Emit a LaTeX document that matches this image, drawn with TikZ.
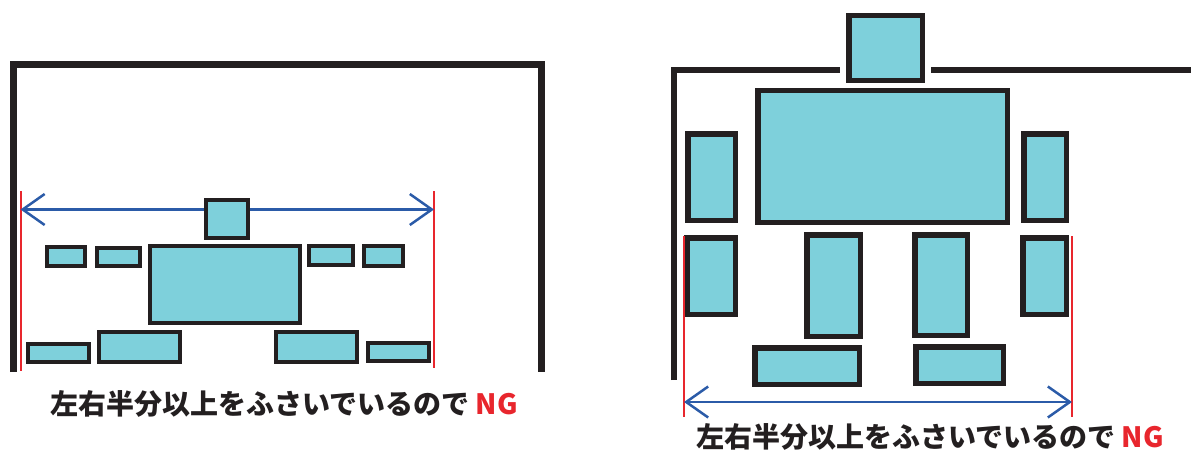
\documentclass[tikz,border=0pt]{standalone}
\usepackage{fontspec}
\newfontfamily\cjk{Noto Sans CJK JP}
\usetikzlibrary{arrows.meta,positioning}
\definecolor{seatcyan}{HTML}{7ED0DB}
\definecolor{inkblack}{HTML}{231F20}
\definecolor{ngred}{HTML}{E8262D}
\definecolor{arrowblue}{HTML}{2B5BA8}
\tikzset{
seatL/.style = {draw=inkblack, fill=seatcyan, rectangle, line width=4pt, inner sep=0pt},
seatR/.style = {draw=inkblack, fill=seatcyan, rectangle, line width=5.5pt, inner sep=0pt},
wall/.style  = {draw=inkblack},
limit/.style = {draw=ngred, line width=2pt},
span/.style  = {draw=arrowblue, line width=2.5pt, {Straight Barb[length=22pt,width=31pt]}-{Straight Barb[length=22pt,width=31pt]}},
caption/.style = {font=\cjk\bfseries\fontsize{28}{30}\selectfont, text=inkblack}
}
\begin{document}
\begin{tikzpicture}[x=1pt,y=-1pt]
\useasboundingbox (0,0) rectangle (1191,450);
% left: spread out sideways
\draw[wall, line width=7pt] (13.5,372) -- (13.5,64) -- (541,64) -- (541,372);
\coordinate (lim1a) at (20.5,191);
\coordinate (lim1b) at (434,191);
\draw[limit] (lim1a) -- ++(0,180);
\draw[limit] (lim1b) -- ++(0,177);
\coordinate (span1a) at (20.5,209.5);
\coordinate (span1b) at (434,209.5);
\draw[span] (span1a) -- (span1b);
\node[seatL, minimum width=42pt, minimum height=38pt] (head1) at (227,219) {};
\node[seatL, minimum width=150pt, minimum height=77pt] (body1) at (225,284.5) {};
\node[seatL, minimum width=38pt, minimum height=19pt] (arm1a) at (66,256.5) {};
\node[seatL, minimum width=43pt, minimum height=18pt] (arm1b) at (118.5,257) {};
\node[seatL, minimum width=44pt, minimum height=19pt] (arm1c) at (331,255.5) {};
\node[seatL, minimum width=39pt, minimum height=20pt] (arm1d) at (383.5,256) {};
\node[seatL, minimum width=61pt, minimum height=18pt] (foot1a) at (58.5,353) {};
\node[seatL, minimum width=81pt, minimum height=30pt] (foot1b) at (139.5,347) {};
\node[seatL, minimum width=81pt, minimum height=30pt] (foot1c) at (316.5,347) {};
\node[seatL, minimum width=61pt, minimum height=18pt] (foot1d) at (398.5,352) {};
\node[caption] (text1) at (284,404) {左右半分以上をふさいでいるので \textcolor{ngred}{NG}};
% right: stretched out lengthwise
\draw[wall, line width=5.5pt] (674,380) -- (674,70) -- (839.5,70);
\draw[wall, line width=5.5pt] (931,70) -- (1191,70);
\node[seatR, minimum width=73.5pt, minimum height=65pt] (head2) at (885.5,47.75) {};
\node[seatR, minimum width=249.5pt, minimum height=132pt] (body2) at (882.5,156.25) {};
\node[seatR, minimum width=47.5pt, minimum height=86.5pt] (uarm2a) at (711.5,177) {};
\node[seatR, minimum width=42.5pt, minimum height=86.5pt] (uarm2b) at (1045,177) {};
\node[seatR, minimum width=48.5pt, minimum height=76.5pt] (larm2a) at (711,276) {};
\node[seatR, minimum width=43.5pt, minimum height=76.5pt] (larm2b) at (1044.5,276) {};
\node[seatR, minimum width=53.5pt, minimum height=101.5pt] (leg2a) at (833.5,285.5) {};
\node[seatR, minimum width=52.5pt, minimum height=100.5pt] (leg2b) at (941,285) {};
\node[seatR, minimum width=104.5pt, minimum height=36.5pt] (foot2a) at (807,366) {};
\node[seatR, minimum width=87.5pt, minimum height=36.5pt] (foot2b) at (959.5,365) {};
\coordinate (lim2a) at (684,236);
\coordinate (lim2b) at (1072,236);
\draw[limit] (lim2a) -- ++(0,181);
\draw[limit] (lim2b) -- ++(0,181);
\coordinate (span2a) at (684,402);
\coordinate (span2b) at (1072,402);
\draw[span] (span2a) -- (span2b);
\node[caption] (text2) at (930,437) {左右半分以上をふさいでいるので \textcolor{ngred}{NG}};
\end{tikzpicture}
\end{document}
